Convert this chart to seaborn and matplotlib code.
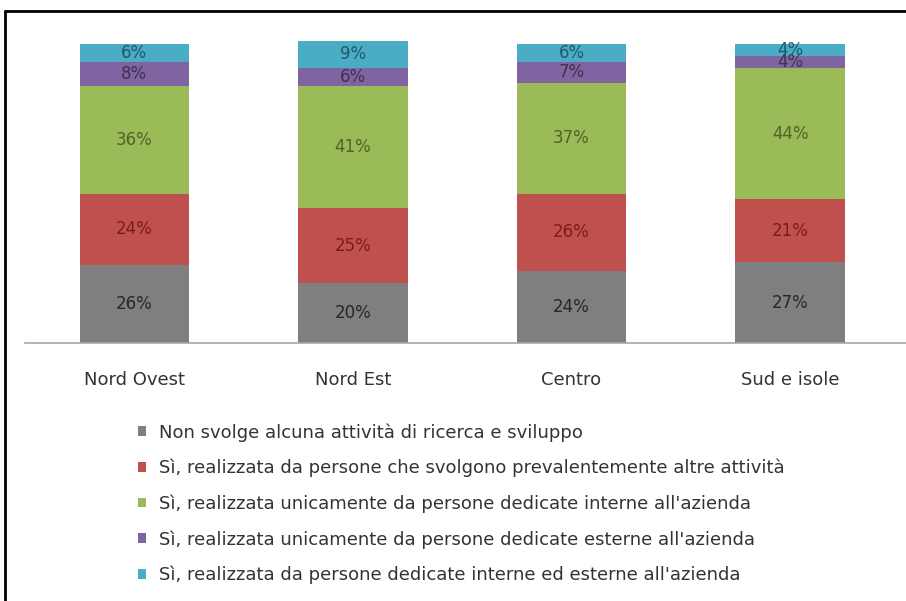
import numpy as np
import pandas as pd
import seaborn as sns
import matplotlib.pyplot as plt
from matplotlib.lines import Line2D
from matplotlib.patches import Patch

# regions on the x axis
regions = ["Nord Ovest", "Nord Est", "Centro", "Sud e isole"]

# one series per answer, bottom to top (percent)
non_svolge = [26, 20, 24, 27]
altre_attivita = [24, 25, 26, 21]
interne = [36, 41, 37, 44]
esterne = [8, 6, 7, 4]
interne_esterne = [6, 9, 6, 4]

series_names = [
    "Non svolge alcuna attività di ricerca e sviluppo",
    "Sì, realizzata da persone che svolgono prevalentemente altre attività",
    "Sì, realizzata unicamente da persone dedicate interne all'azienda",
    "Sì, realizzata unicamente da persone dedicate esterne all'azienda",
    "Sì, realizzata da persone dedicate interne ed esterne all'azienda",
]
series_values = [non_svolge, altre_attivita, interne, esterne, interne_esterne]

bar_colors = ["#7f7f7f", "#c0504d", "#9bbb59", "#8064a2", "#4bacc6"]
label_colors = ["#262626", "#7a1c1a", "#4f6228", "#3f3151", "#215967"]

sns.set_theme(style="white")
plt.rcParams["font.family"] = ["DejaVu Sans"]

fig = plt.figure(figsize=(9.06, 6.01), dpi=100)
ax = fig.add_axes([25 / 906, 1 - 343 / 601, 1 - 25 / 906, (343 - 44) / 601])

df = pd.DataFrame({"region": regions})
bottom = np.zeros(len(regions))
for name, vals, col, lcol in zip(series_names, series_values, bar_colors, label_colors):
    df["v"] = vals
    sns.barplot(data=df, x="region", y="v", bottom=bottom, color=col,
                width=0.5, saturation=1, ax=ax, linewidth=0)
    for i, v in enumerate(vals):
        ax.text(i, bottom[i] + v / 2, f"{v}%", ha="center", va="center",
                fontsize=12, color=lcol)
    bottom = bottom + np.array(vals)

for p in ax.patches:
    p.set_clip_on(False)

ax.set_xlim(-0.5, 3.53)
ax.set_ylim(0, 100)
ax.set_xlabel("")
ax.set_ylabel("")
ax.set_yticks([])
ax.tick_params(axis="x", length=0, pad=20, labelsize=13, colors="#333333")
for s in ["top", "right", "left"]:
    ax.spines[s].set_visible(False)
ax.spines["bottom"].set_color("#a6a6a6")
ax.spines["bottom"].set_linewidth(1.2)

handles = [Patch(facecolor=c, edgecolor="none") for c in bar_colors]
fig.legend(handles, series_names, loc="upper left",
           bbox_to_anchor=(122 / 906, 1 - 407 / 601), frameon=False,
           fontsize=13, handlelength=0.45, handleheight=0.45, handletextpad=0.7,
           labelspacing=0.95, labelcolor="#333333")

# outer frame (only top and left edges are in view)
fig.add_artist(Line2D([5 / 906, 5 / 906], [0, 1 - 11 / 601], color="black",
                      lw=2, transform=fig.transFigure))
fig.add_artist(Line2D([5 / 906, 1], [1 - 11 / 601, 1 - 11 / 601], color="black",
                      lw=2, transform=fig.transFigure))

fig.savefig("out.png", dpi=100)
